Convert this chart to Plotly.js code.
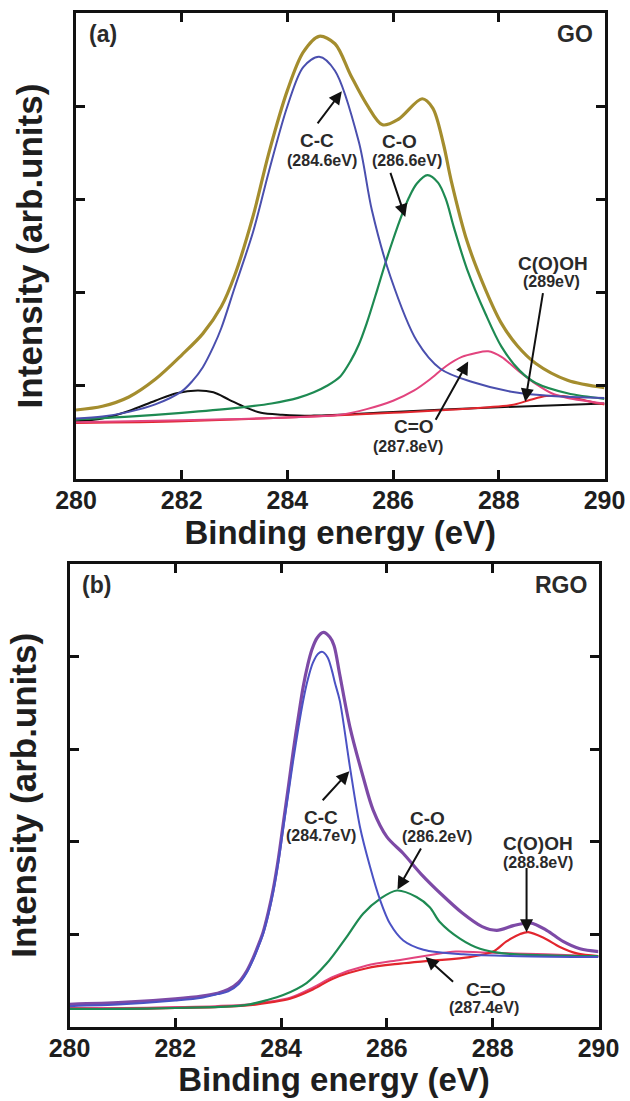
<!DOCTYPE html>
<html>
<head>
<meta charset="utf-8">
<script src="https://cdn.plot.ly/plotly-3.0.1.min.js"></script>
<style>
  body { margin: 0; background: #fff; }
  #plot { width: 630px; height: 1101px; }
</style>
</head>
<body>
<div id="plot"></div>
<script>
// ---- (a) GO, C1s fit ----
let goEnvX = [280, 280.5, 281, 281.5, 282, 282.4, 282.75, 283, 283.35, 283.65, 284, 284.3, 284.6, 284.9, 285.2, 285.5, 285.8, 286.1, 286.55, 286.75, 286.95, 287.1, 287.4, 287.75, 288.05, 288.35, 288.7, 289.3, 290];
let goEnvY = [0.74, 0.78, 0.88, 1.07, 1.33, 1.56, 1.85, 2.18, 2.82, 3.50, 4.17, 4.58, 4.75, 4.67, 4.33, 4.02, 3.80, 3.86, 4.08, 3.98, 3.60, 3.20, 2.55, 2.03, 1.67, 1.43, 1.24, 1.06, 0.98];

let goCCX = [280, 280.5, 281, 281.5, 282, 282.2, 282.4, 282.6, 282.75, 283, 283.35, 283.65, 284, 284.3, 284.6, 284.9, 285.35, 285.6, 285.95, 286.45, 286.9, 287.5, 288.3, 289, 290];
let goCCY = [0.65, 0.67, 0.72, 0.80, 0.94, 1.05, 1.20, 1.42, 1.62, 2.05, 2.65, 3.30, 4.00, 4.42, 4.53, 4.38, 3.62, 2.88, 2.17, 1.48, 1.18, 1.04, 0.93, 0.89, 0.87];

let goCOX = [280, 281, 282, 283, 283.7, 284.2, 284.5, 284.75, 285.0, 285.2, 285.35, 285.5, 285.7, 285.85, 286.0, 286.15, 286.3, 286.45, 286.65, 286.85, 287.0, 287.15, 287.4, 287.75, 288.05, 288.4, 288.7, 289.3, 290];
let goCOY = [0.64, 0.67, 0.71, 0.76, 0.81, 0.87, 0.93, 1.00, 1.10, 1.27, 1.44, 1.67, 2.03, 2.31, 2.57, 2.81, 3.02, 3.17, 3.26, 3.18, 3.00, 2.70, 2.25, 1.77, 1.42, 1.16, 1.03, 0.92, 0.86];

let goC_OX = [280, 282, 284, 285, 285.5, 286, 286.4, 286.7, 287, 287.3, 287.55, 287.8, 288.05, 288.35, 288.7, 289, 289.3, 290];
let goC_OY = [0.61, 0.63, 0.66, 0.69, 0.75, 0.84, 0.95, 1.07, 1.21, 1.31, 1.35, 1.37, 1.31, 1.17, 1.02, 0.92, 0.87, 0.81];

let goCOOHX = [280, 282, 284, 286, 287, 287.8, 288.3, 288.6, 288.9, 289.2, 289.5, 289.8, 290];
let goCOOHY = [0.60, 0.62, 0.66, 0.71, 0.74, 0.77, 0.80, 0.85, 0.89, 0.89, 0.86, 0.82, 0.80];

let goBlackX = [280, 280.5, 281, 281.5, 281.9, 282.3, 282.6, 282.9, 283.2, 283.5, 283.9, 284.5, 286, 288, 290];
let goBlackY = [0.62, 0.65, 0.73, 0.84, 0.92, 0.95, 0.93, 0.85, 0.77, 0.71, 0.69, 0.68, 0.72, 0.77, 0.81];

// ---- (b) RGO ----
let rgoEnvX = [280, 281, 282, 282.5, 282.8, 283.0, 283.2, 283.35, 283.47, 283.57, 283.66, 283.76, 283.85, 283.95, 284.04, 284.14, 284.23, 284.33, 284.42, 284.5, 284.58, 284.68, 284.8, 284.92, 285.0, 285.11, 285.3, 285.55, 285.74, 286.0, 286.31, 286.66, 287.03, 287.42, 287.8, 288.08, 288.39, 288.71, 289.02, 289.33, 289.65, 290];
let rgoEnvY = [0.24, 0.26, 0.30, 0.33, 0.36, 0.40, 0.48, 0.60, 0.74, 0.88, 1.02, 1.24, 1.48, 1.82, 2.19, 2.60, 2.98, 3.36, 3.68, 3.90, 4.07, 4.20, 4.26, 4.21, 4.12, 3.80, 3.24, 2.70, 2.34, 2.05, 1.87, 1.64, 1.43, 1.23, 1.08, 1.04, 1.09, 1.12, 1.04, 0.92, 0.84, 0.81];

let rgoCCX = [280, 281, 282, 282.5, 282.8, 283.0, 283.2, 283.35, 283.47, 283.57, 283.66, 283.76, 283.85, 283.95, 284.04, 284.14, 284.23, 284.33, 284.42, 284.5, 284.6, 284.7, 284.78, 284.88, 284.96, 285.02, 285.11, 285.3, 285.49, 285.68, 285.87, 286.06, 286.31, 286.69, 287.45, 288.5, 290];
let rgoCCY = [0.22, 0.24, 0.28, 0.31, 0.35, 0.38, 0.46, 0.58, 0.72, 0.86, 1.00, 1.21, 1.45, 1.78, 2.14, 2.53, 2.88, 3.24, 3.53, 3.74, 3.93, 4.03, 4.05, 3.99, 3.85, 3.71, 3.52, 2.81, 2.16, 1.73, 1.37, 1.11, 0.93, 0.83, 0.78, 0.76, 0.75];

let rgoCOX = [280, 281, 282, 282.75, 283.1, 283.41, 283.7, 284.04, 284.48, 284.86, 285.24, 285.55, 285.87, 286.19, 286.56, 286.81, 287.0, 287.38, 287.76, 288.2, 289, 290];
let rgoCOY = [0.19, 0.19, 0.20, 0.21, 0.22, 0.24, 0.28, 0.34, 0.47, 0.68, 0.97, 1.22, 1.38, 1.47, 1.40, 1.29, 1.13, 0.95, 0.84, 0.79, 0.77, 0.76];

let rgoC_OX = [280, 281, 282, 282.75, 283.41, 283.8, 284.17, 284.6, 284.99, 285.62, 286.25, 286.8, 287.3, 287.8, 288.4, 289, 290];
let rgoC_OY = [0.20, 0.20, 0.21, 0.22, 0.24, 0.27, 0.31, 0.42, 0.54, 0.66, 0.72, 0.77, 0.81, 0.80, 0.79, 0.78, 0.76];

let rgoCOOHX = [280, 281, 282, 282.75, 283.41, 283.8, 284.17, 284.6, 284.99, 285.62, 286.25, 286.8, 287.57, 288.01, 288.26, 288.52, 288.67, 288.96, 289.27, 289.59, 290];
let rgoCOOHY = [0.19, 0.19, 0.20, 0.21, 0.23, 0.26, 0.30, 0.40, 0.52, 0.63, 0.68, 0.71, 0.75, 0.81, 0.92, 1.00, 1.02, 0.96, 0.86, 0.79, 0.76];

let xTicks = [280, 282, 284, 286, 288, 290];

let colorLine = {"env":'#a48d2e', "envB":'#7d4aa6', "cc":'#4a4fae', "ccB":'#4b52c4', "co":'#1e8a52', "c_o":'#e2447e', "cooh":'#e2262e', "base":'#111111'};

function line(x, y, c, w, xa, ya){
    return {type:'scatter', mode:'lines', x:x, y:y, xaxis:xa, yaxis:ya,
            line:{color:c, width:w, shape:'spline', smoothing:0.9}, showlegend:false, hoverinfo:'skip'};
}

var data = [
    line(goBlackX, goBlackY, colorLine.base, 2, 'x', 'y'),
    line(goCOOHX, goCOOHY, colorLine.cooh, 2, 'x', 'y'),
    line(goC_OX, goC_OY, colorLine.c_o, 2, 'x', 'y'),
    line(goCOX, goCOY, colorLine.co, 2.2, 'x', 'y'),
    line(goCCX, goCCY, colorLine.cc, 2, 'x', 'y'),
    line(goEnvX, goEnvY, colorLine.env, 3.2, 'x', 'y'),

    line(rgoC_OX, rgoC_OY, colorLine.c_o, 2, 'x2', 'y2'),
    line(rgoCOOHX, rgoCOOHY, colorLine.cooh, 2.2, 'x2', 'y2'),
    line(rgoCOX, rgoCOY, colorLine.co, 2.2, 'x2', 'y2'),
    line(rgoEnvX, rgoEnvY, colorLine.envB, 3.2, 'x2', 'y2'),
    line(rgoCCX, rgoCCY, colorLine.ccB, 2, 'x2', 'y2'),
];

var fam = 'Liberation Sans, Arial, sans-serif';
var ink = '#1e1e1e';

function xAxis(dom, anchor){
    return {domain:dom, anchor:anchor, range:[280, 290], tickvals:xTicks, ticktext:xTicks.map(String),
        ticks:'inside', ticklen:9, tickwidth:3, tickcolor:'#111', showline:true, linewidth:3, linecolor:'#111',
        mirror:'ticks', showgrid:false, zeroline:false, ticklabelstandoff:-3,
        tickfont:{family:fam, size:25, color:ink, weight:'bold'},
        title:{text:'Binding energy (eV)', standoff:0, font:{family:fam, size:33, color:ink, weight:'bold'}}};
}
function yAxis(dom, anchor){
    return {domain:dom, anchor:anchor, range:[0, 5], tickvals:[1, 2, 3, 4], showticklabels:false,
        ticks:'inside', ticklen:9, tickwidth:3, tickcolor:'#111', showline:true, linewidth:3, linecolor:'#111',
        mirror:'ticks', showgrid:false, zeroline:false,
        title:{text:'Intensity (arb.units)', standoff:20, font:{family:fam, size:35, color:ink, weight:'bold'}}};
}

function label(t, x, y, size, xa, ya, anchor){
    return {text:t, x:x, y:y, xref:xa, yref:ya, showarrow:false, xanchor:anchor || 'center', yanchor:'middle',
            font:{family:fam, size:size, color:'#2a2a2a', weight:'bold'}};
}
function arrow(x0, y0, x1, y1, xa, ya){
    return {text:'', x:x1, y:y1, ax:x0, ay:y0, xref:xa, yref:ya, axref:xa, ayref:ya,
            showarrow:true, arrowhead:2, arrowsize:1.3, arrowwidth:2, arrowcolor:'#111', standoff:0, startstandoff:0};
}

var annotations = [
    label('(a)', 280.2, 4.77, 23, 'x', 'y', 'left'),
    label('GO', 289.82, 4.77, 23, 'x', 'y', 'right'),
    label('C-C', 284.56, 3.63, 19, 'x', 'y'),
    label('(284.6eV)', 284.65, 3.42, 16, 'x', 'y'),
    arrow(284.55, 3.80, 285.03, 4.16, 'x', 'y'),
    label('C-O', 286.13, 3.62, 19, 'x', 'y'),
    label('(286.6eV)', 286.26, 3.42, 16, 'x', 'y'),
    arrow(285.94, 3.30, 286.23, 2.81, 'x', 'y'),
    label('C(O)OH', 289.03, 2.31, 19, 'x', 'y'),
    label('(289eV)', 289.0, 2.12, 16, 'x', 'y'),
    arrow(288.84, 2.01, 288.50, 0.83, 'x', 'y'),
    label('C=O', 286.39, 0.56, 19, 'x', 'y'),
    label('(287.8eV)', 286.28, 0.35, 16, 'x', 'y'),
    arrow(286.79, 0.62, 287.42, 1.26, 'x', 'y'),

    label('(b)', 280.2, 4.77, 23, 'x2', 'y2', 'left'),
    label('RGO', 289.82, 4.77, 23, 'x2', 'y2', 'right'),
    label('C-C', 284.76, 2.26, 19, 'x2', 'y2'),
    label('(284.7eV)', 284.76, 2.06, 16, 'x2', 'y2'),
    arrow(284.76, 2.43, 285.29, 2.76, 'x2', 'y2'),
    label('C-O', 286.76, 2.25, 19, 'x2', 'y2'),
    label('(286.2eV)', 286.94, 2.05, 16, 'x2', 'y2'),
    arrow(286.66, 1.94, 286.20, 1.48, 'x2', 'y2'),
    label('C(O)OH', 288.86, 1.98, 19, 'x2', 'y2'),
    label('(288.8eV)', 288.86, 1.77, 16, 'x2', 'y2'),
    arrow(288.64, 1.73, 288.64, 1.02, 'x2', 'y2'),
    label('C=O', 287.88, 0.40, 19, 'x2', 'y2'),
    label('(287.4eV)', 287.84, 0.21, 16, 'x2', 'y2'),
    arrow(287.28, 0.47, 286.73, 0.75, 'x2', 'y2'),
];

var layout = {
    width:630, height:1101,
    margin:{l:0, r:0, t:0, b:0},
    paper_bgcolor:'#ffffff', plot_bgcolor:'rgba(0,0,0,0)',
    xaxis: xAxis([76/630, 604.5/630], 'y'),
    yaxis: yAxis([1 - 479/1101, 1 - 13/1101], 'x'),
    xaxis2: xAxis([69.5/630, 598.5/630], 'y2'),
    yaxis2: yAxis([1 - 1026.5/1101, 1 - 564/1101], 'x2'),
    annotations: annotations,
    hovermode:false,
};

Plotly.newPlot('plot', data, layout, {displayModeBar:false, staticPlot:true});
</script>
</body>
</html>
